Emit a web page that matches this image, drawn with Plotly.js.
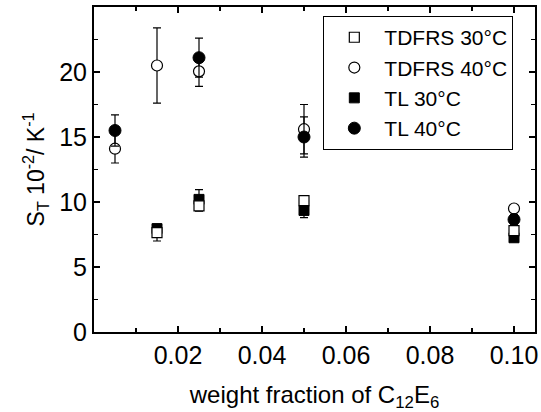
<!DOCTYPE html>
<html>
<head>
<meta charset="utf-8">
<script src="https://cdn.plot.ly/plotly-3.0.1.min.js"></script>
<style>html,body{margin:0;padding:0;background:#fff}#chart{width:541px;height:412px}</style>
</head>
<body>
<div id="chart"></div>
<script>
// weight fraction of C12E6
const xTDFRS30 = [0.015, 0.025, 0.05, 0.10];
const yTDFRS30 = [7.65, 9.7, 10.1, 7.8];
const eTDFRS30 = [0.65, 0.4, 0.3, 0.4];

const xTDFRS40 = [0.005, 0.015, 0.025, 0.05, 0.10];
const yTDFRS40 = [14.1, 20.5, 20.05, 15.6, 9.5];
const eTDFRS40 = [1.1, 2.9, 1.15, 1.9, 0.3];

const xTL30 = [0.015, 0.025, 0.05, 0.10];
const yTL30 = [7.95, 10.2, 9.35, 7.25];
const eTL30 = [0.3, 0.75, 0.55, 0.3];

const xTL40 = [0.005, 0.025, 0.05, 0.10];
const yTL40 = [15.5, 21.1, 15.0, 8.65];
const eTL40 = [1.2, 1.5, 1.55, 0.4];

const xTickVals = [0.02, 0.04, 0.06, 0.08, 0.10];
const xTickText = ["0.02", "0.04", "0.06", "0.08", "0.10"];
const yTickVals = [0, 5, 10, 15, 20];

function err(a){ return {type:'data', array:a, visible:true, color:'#000', thickness:1.2, width:4}; }

const traces = [
  {name:'TL 30°C', x:xTL30, y:yTL30, error_y:err(eTL30), mode:'markers', type:'scatter', legendrank:3,
   marker:{symbol:'square', size:10, color:'#000', line:{color:'#000', width:1}}},
  {name:'TDFRS 30°C', x:xTDFRS30, y:yTDFRS30, error_y:err(eTDFRS30), mode:'markers', type:'scatter', legendrank:1,
   marker:{symbol:'square', size:10, color:'#fff', line:{color:'#000', width:1.2}}},
  {name:'TDFRS 40°C', x:xTDFRS40, y:yTDFRS40, error_y:err(eTDFRS40), mode:'markers', type:'scatter', legendrank:2,
   marker:{symbol:'circle', size:11, color:'#fff', line:{color:'#000', width:1.2}}},
  {name:'TL 40°C', x:xTL40, y:yTL40, error_y:err(eTL40), mode:'markers', type:'scatter', legendrank:4,
   marker:{symbol:'circle', size:12, color:'#000', line:{color:'#000', width:1}}}
];

const font = {family:'Arial, "Liberation Sans", sans-serif', color:'#000'};

const layout = {
  width:541, height:412,
  margin:{l:94, r:6, t:7, b:80},
  paper_bgcolor:'#fff', plot_bgcolor:'#fff',
  font:Object.assign({size:22}, font),
  showlegend:true,
  legend:{x:0.52, y:0.972, xanchor:'left', yanchor:'top', bordercolor:'#000', borderwidth:1,
          bgcolor:'#fff', font:Object.assign({size:21}, font), tracegroupgap:0, itemsizing:'trace',
          itemwidth:50},
  xaxis:{
    range:[0, 0.105], showgrid:false, zeroline:false, automargin:false,
    showline:true, linecolor:'#000', linewidth:2, mirror:'ticks',
    ticks:'inside', ticklen:6, tickwidth:1.5, tickcolor:'#000',
    tickvals:xTickVals, ticktext:xTickText, tickfont:Object.assign({size:25}, font),
    minor:{dtick:0.01, tick0:0, ticks:'inside', ticklen:4, tickwidth:1.5, tickcolor:'#000', showgrid:false},
    title:{text:'weight fraction of C<sub>12</sub>E<sub>6</sub>', font:Object.assign({size:24}, font), standoff:19}
  },
  yaxis:{
    range:[0, 25], showgrid:false, zeroline:false, automargin:false,
    showline:true, linecolor:'#000', linewidth:2, mirror:'ticks',
    ticks:'inside', ticklen:6, tickwidth:1.5, tickcolor:'#000',
    tickvals:yTickVals, tickfont:Object.assign({size:25}, font),
    minor:{dtick:2.5, tick0:0, ticks:'inside', ticklen:4, tickwidth:1.5, tickcolor:'#000', showgrid:false},
    title:{text:'S<sub>T</sub> 10<sup>-2</sup>/ K<sup>-1</sup>\u00a0\u00a0\u00a0\u00a0', font:Object.assign({size:23}, font), standoff:8}
  }
};

Plotly.newPlot('chart', traces, layout, {displayModeBar:false, staticPlot:true});
</script>
</body>
</html>
